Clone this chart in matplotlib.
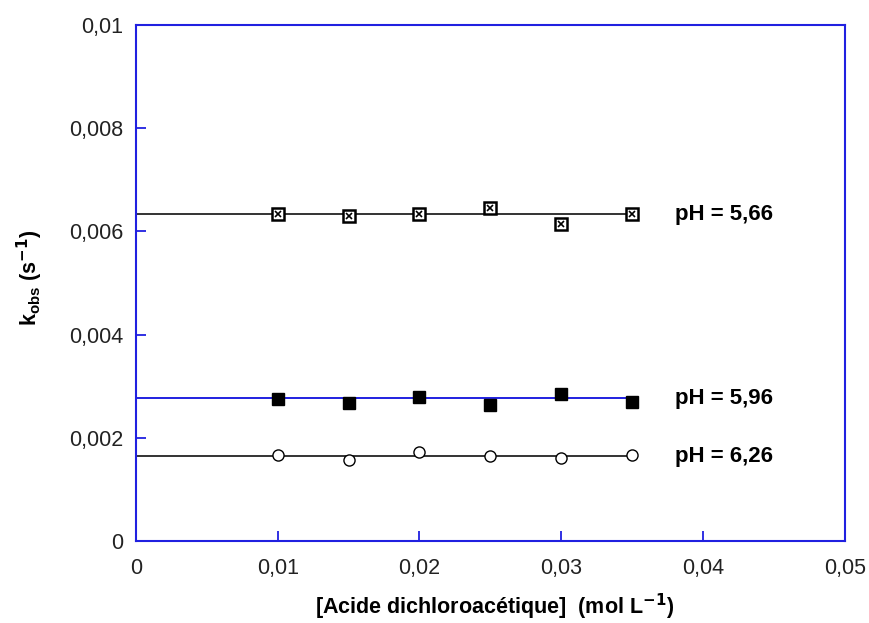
import numpy as np
import matplotlib.pyplot as plt

plt.rcParams['font.family'] = ['Liberation Sans', 'DejaVu Sans']

conc = [0.010, 0.015, 0.020, 0.025, 0.030, 0.035]
k_566 = [0.00633, 0.00630, 0.00634, 0.00646, 0.00614, 0.00633]
k_596 = [0.00275, 0.00267, 0.00280, 0.00264, 0.00285, 0.00270]
k_626 = [0.00167, 0.00157, 0.00173, 0.00165, 0.00161, 0.00167]
fit_566 = 0.00633
fit_596 = 0.00277
fit_626 = 0.00164
labels = ["pH = 5,66", "pH = 5,96", "pH = 6,26"]

x_ticks = [0, 0.01, 0.02, 0.03, 0.04, 0.05]
x_ticklabels = ["0", "0,01", "0,02", "0,03", "0,04", "0,05"]
y_ticks = [0, 0.002, 0.004, 0.006, 0.008, 0.01]
y_ticklabels = ["0", "0,002", "0,004", "0,006", "0,008", "0,01"]

fig = plt.figure(figsize=(8.69, 6.23), dpi=100)
ax = fig.add_axes([0.1565, 0.1316, 0.8155, 0.8284])

xfit = [0, 0.035]
ax.plot(xfit, [fit_566, fit_566], color='#333333', lw=1.4, zorder=1)
ax.plot(xfit, [fit_596, fit_596], color='#2020e0', lw=1.4, zorder=1)
ax.plot(xfit, [fit_626, fit_626], color='#333333', lw=1.4, zorder=1)

# square with a cross inside
ax.plot(conc, k_566, ls='none', marker='s', ms=8.5, mfc='white', mec='black', mew=1.8, zorder=3)
ax.plot(conc, k_566, ls='none', marker='x', ms=5, mec='black', mew=1.2, zorder=4)
ax.plot(conc, k_596, ls='none', marker='s', ms=8.5, mfc='black', mec='black', mew=1.0, zorder=3)
ax.plot(conc, k_626, ls='none', marker='o', ms=8, mfc='white', mec='black', mew=1.0, zorder=3)

for lab, yv in zip(labels, [fit_566, fit_596, fit_626]):
    ax.text(0.038, yv, lab, fontsize=16, fontweight='bold', va='center', ha='left')

ax.set_xlim(0, 0.05)
ax.set_ylim(0, 0.01)
ax.set_xticks(x_ticks)
ax.set_xticklabels(x_ticklabels)
ax.set_yticks(y_ticks)
ax.set_yticklabels(y_ticklabels)

for sp in ax.spines.values():
    sp.set_color('#2020e0')
    sp.set_linewidth(1.5)
ax.tick_params(direction='in', length=7, width=1.3, color='#2020e0', labelsize=15.5, labelcolor='#222222')
ax.tick_params(axis='x', pad=12)
ax.tick_params(axis='y', pad=9)

ax.set_xlabel(r"[Acide dichloroacétique]  (mol L$^{\mathbf{-1}}$)", fontsize=15.5, fontweight='bold')
ax.set_ylabel(r"k$_{\mathregular{obs}}$ (s$^{\mathbf{-1}}$)", fontsize=15.5, fontweight='bold')
ax.xaxis.set_label_coords(0.506, -0.098)
ax.yaxis.set_label_coords(-0.128, 0.51)

fig.savefig("out.png", dpi=100)
